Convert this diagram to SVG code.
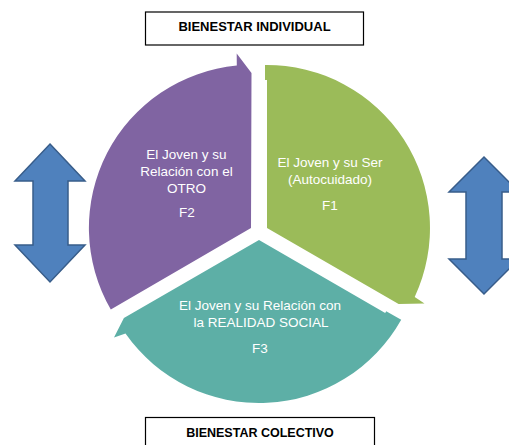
<svg xmlns="http://www.w3.org/2000/svg" width="509" height="445" viewBox="0 0 509 445">
<style>
.box{fill:#FFFFFF;stroke:#000000;stroke-width:1.2}
.boxt{font-family:"Liberation Sans",Arial,sans-serif;font-weight:bold;font-size:13px;fill:#000000;text-anchor:middle}
.seg{stroke:none}
.st{font-family:"Liberation Sans",Arial,sans-serif;font-size:13.5px;fill:#FFFFFF;text-anchor:middle}
.dbl{fill:#4F81BD;stroke:#385D8A;stroke-width:1.5;stroke-linejoin:miter}
</style>
<rect width="509" height="445" fill="#FFFFFF"/>
<g id="connectors">
  <path id="arrow-left" class="dbl" d="M50,144 L85,181 L68,181 L68,245 L85,245 L50,282 L15,245 L33,245 L33,181 L15,181 Z"/>
  <path id="arrow-right" class="dbl" d="M484,157 L519,192 L502,192 L502,259 L519,259 L484,294 L449,259 L466,259 L466,192 L449,192 Z"/>
</g>
<g id="box-individual">
  <rect class="box" x="145.5" y="12" width="218" height="33"/>
  <text class="boxt" x="254.5" y="30.5">BIENESTAR INDIVIDUAL</text>
</g>
<g id="box-colectivo">
  <rect class="box" x="145.5" y="417.5" width="229" height="40"/>
  <text class="boxt" x="260" y="436.5" style="font-size:12.5px">BIENESTAR COLECTIVO</text>
</g>
<g id="seg-f2">
  <path class="seg" fill="#8064A2" d="M251,228 L110.8,309.5 A163,163 0 0 1 236.8,65.6 L236.7,53.6 L251.5,73 Z"/>
  <text class="st" x="186.5" y="159">El Joven y su</text>
  <text class="st" x="186.5" y="176">Relación con el</text>
  <text class="st" x="186.5" y="193">OTRO</text>
  <text class="st" x="187" y="216.5">F2</text>
</g>
<g id="seg-f1">
  <path class="seg" fill="#9BBB59" d="M267,228 L267,80 L265,80 L265,65 A163,163 0 0 1 414.7,296.9 L424.5,303.5 L398.6,304 Z"/>
  <text class="st" x="330" y="167">El Joven y su Ser</text>
  <text class="st" x="330" y="184">(Autocuidado)</text>
  <text class="st" x="330" y="209.5">F1</text>
</g>
<g id="seg-f3">
  <path class="seg" fill="#5DAFA6" d="M259,240 L385.2,312.9 L386.2,311.2 L401.2,319.8 A163,163 0 0 1 125.5,333.5 L114,337.5 L123.9,318 Z"/>
  <text class="st" x="260" y="309.5">El Joven y su Relación con</text>
  <text class="st" x="261" y="326.5">la REALIDAD SOCIAL</text>
  <text class="st" x="260" y="352.5">F3</text>
</g>
</svg>
